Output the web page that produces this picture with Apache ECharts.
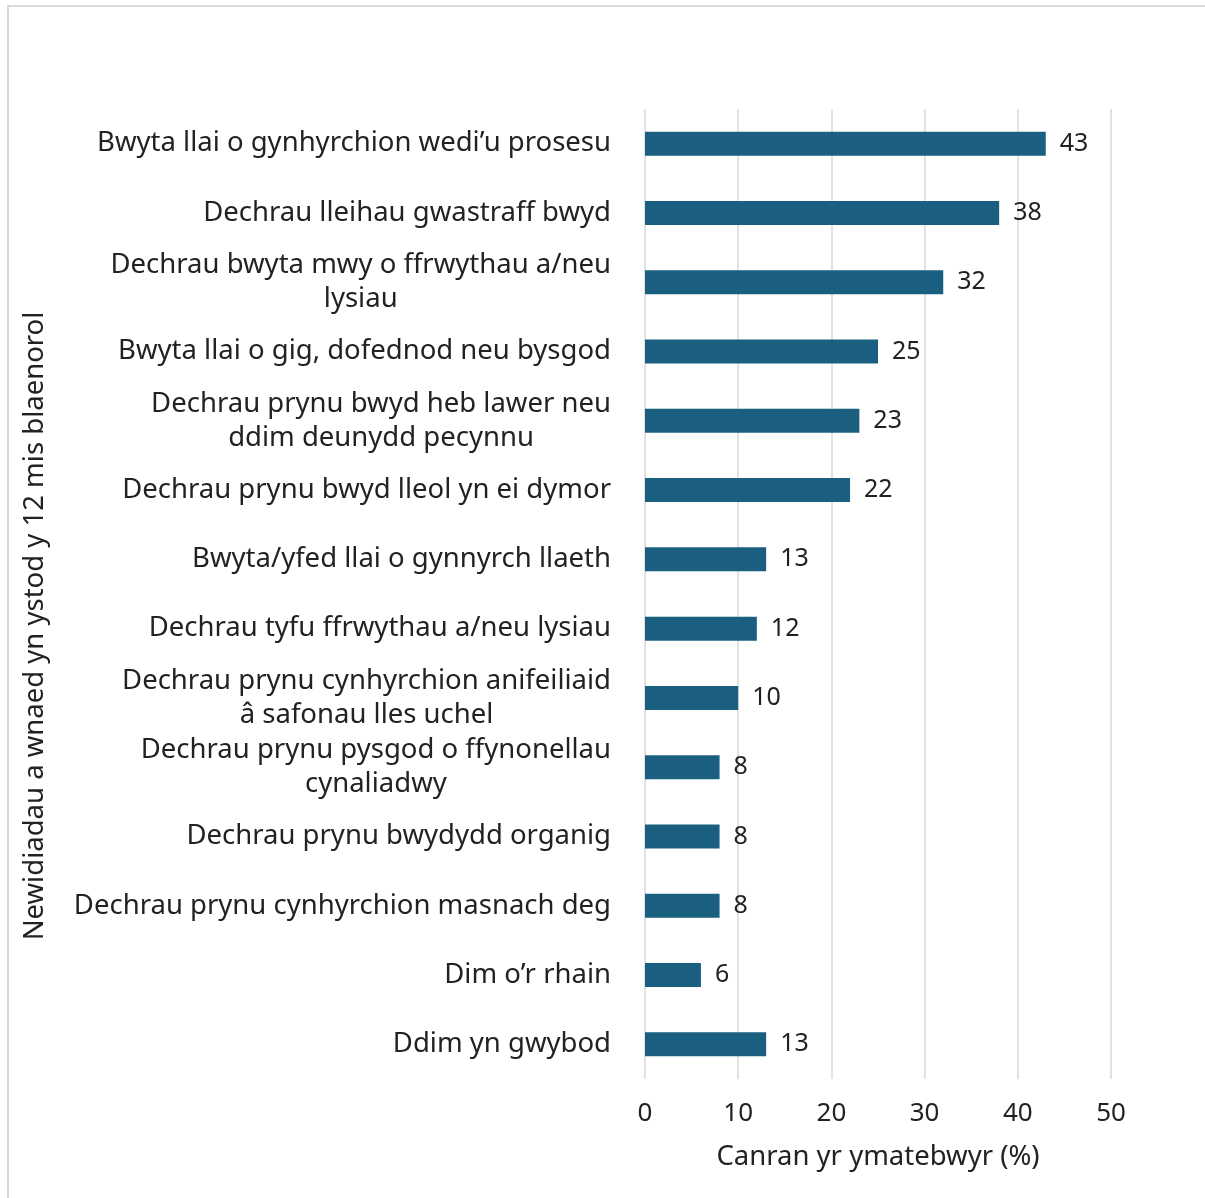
<!DOCTYPE html>
<html>
<head>
<meta charset="utf-8">
<script src="https://cdn.jsdelivr.net/npm/echarts@6/dist/echarts.min.js"></script>
<style>
html,body{margin:0;padding:0;background:#fff;}
#frame{position:absolute;left:7px;top:5px;width:1400px;height:1400px;border:2px solid #dadada;box-sizing:border-box;}
#chart{position:absolute;left:0;top:0;width:1205px;height:1198px;}
</style>
</head>
<body>
<div id="frame"></div>
<div id="chart"></div>
<script>
const categories = [
  "Bwyta llai o gynhyrchion wedi’u prosesu",
  "Dechrau lleihau gwastraff bwyd",
  "Dechrau bwyta mwy o ffrwythau a/neu\nlysiau",
  "Bwyta llai o gig, dofednod neu bysgod",
  "Dechrau prynu bwyd heb lawer neu\nddim deunydd pecynnu",
  "Dechrau prynu bwyd lleol yn ei dymor",
  "Bwyta/yfed llai o gynnyrch llaeth",
  "Dechrau tyfu ffrwythau a/neu lysiau",
  "Dechrau prynu cynhyrchion anifeiliaid\nâ safonau lles uchel",
  "Dechrau prynu pysgod o ffynonellau\ncynaliadwy",
  "Dechrau prynu bwydydd organig",
  "Dechrau prynu cynhyrchion masnach deg",
  "Dim o’r rhain",
  "Ddim yn gwybod"
];
const values = [43, 38, 32, 25, 23, 22, 13, 12, 10, 8, 8, 8, 6, 13];
const xTicks = { min: 0, max: 50, interval: 10 };
const xTitle = "Canran yr ymatebwyr (%)";
const yTitle = "Newidiadau a wnaed yn ystod y 12 mis blaenorol";

const FONT = "Noto Sans";
const TXT = 27.5;
const chart = echarts.init(document.getElementById('chart'), null, {renderer: 'canvas'});
chart.setOption({
  animation: false,
  textStyle: {fontFamily: FONT},
  grid: {left: 645, right: 94, top: 109, bottom: 119, containLabel: false},
  xAxis: {
    type: 'value', min: xTicks.min, max: xTicks.max, interval: xTicks.interval,
    axisLine: {show: false}, axisTick: {show: false},
    splitLine: {show: true, lineStyle: {color: '#d9d9d9', width: 1.5}},
    axisLabel: {fontSize: 26, color: '#222', margin: 22, fontFamily: FONT},
    name: xTitle, nameLocation: 'middle', nameGap: 64,
    nameTextStyle: {fontSize: TXT, color: '#222', fontFamily: FONT}
  },
  yAxis: {
    type: 'category', data: categories, inverse: true,
    axisLine: {show: false}, axisTick: {show: false},
    axisLabel: {
      margin: 34, color: '#222', fontSize: TXT, fontFamily: FONT, align: 'right', lineHeight: 34,
      formatter: function (v) {
        return v.split('\n').map(function (s) { return '{c|' + s + '}'; }).join('\n');
      },
      rich: {c: {align: 'center', fontSize: TXT, lineHeight: 34, color: '#222', fontFamily: FONT}}
    }
  },
  graphic: [{
    type: 'text',
    rotation: Math.PI / 2,
    x: 35, y: 626,
    style: {text: yTitle, fontSize: TXT, fill: '#222', fontFamily: FONT, align: 'center', verticalAlign: 'middle'}
  }],
  series: [{
    type: 'bar', data: values, barWidth: 24,
    itemStyle: {color: '#1a5f80'},
    label: {show: true, position: 'right', distance: 14, fontSize: 25, color: '#222', fontFamily: FONT}
  }]
});
</script>
</body>
</html>
